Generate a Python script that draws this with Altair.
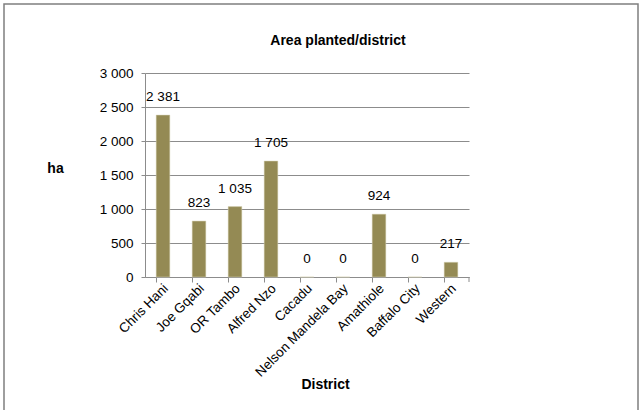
import altair as alt
import pandas as pd

# Planted area per district (hectares)
districts = ["Chris Hani", "Joe Gqabi", "OR Tambo", "Alfred Nzo", "Cacadu",
             "Nelson Mandela Bay", "Amathiole", "Baffalo City", "Western"]
hectares = [2381, 823, 1035, 1705, 0, 0, 924, 0, 217]
y_ticks = [0, 500, 1000, 1500, 2000, 2500, 3000]

df = pd.DataFrame({"district": districts, "ha": hectares})

W, H = 324, 204
FONT = "Liberation Sans"
BAR = "#948A54"
GRID = "#8C8C8C"

x_enc = alt.X(
    "district:N", sort=districts,
    scale=alt.Scale(paddingInner=0.62, paddingOuter=0.31),
    axis=alt.Axis(
        title="District", titleFont=FONT, titleFontSize=14, titleFontWeight="bold",
        titleColor="#000", titleX=W / 2 + 18, titleY=111, titleBaseline="alphabetic",
        labelAngle=-45, labelAlign="right", labelBaseline="middle",
        labelFont=FONT, labelFontSize=13.5, labelColor="#000", labelPadding=4,
        labelOffset=3,
        bandPosition=0, tickColor=GRID, tickSize=5, domainColor=GRID,
        labelOverlap=False,
    ),
)
y_enc = alt.Y(
    "ha:Q",
    scale=alt.Scale(domain=[0, 3000], nice=False),
    axis=alt.Axis(
        title="ha", titleAngle=0, titleFont=FONT, titleFontSize=14,
        titleFontWeight="bold", titleColor="#000", titleX=-90, titleY=99,
        titleAlign="center", titleBaseline="alphabetic",
        values=y_ticks, labelOverlap=False,
        labelExpr="replace(format(datum.value, ','), ',', ' ')",
        labelFont=FONT, labelFontSize=13.5, labelColor="#000", labelPadding=8,
        tickColor=GRID, tickSize=4, domainColor=GRID,
        grid=True, gridColor=GRID, gridWidth=1,
    ),
)

base = alt.Chart(df).encode(x=x_enc, y=y_enc)

bars = base.mark_bar(color=BAR, stroke="#D9D4B8", strokeWidth=0.5)

labels = base.transform_calculate(
    label="replace(format(datum.ha, ','), ',', ' ')"
).mark_text(
    font=FONT, fontSize=13.5, color="#000", baseline="bottom", dy=-11
).encode(text="label:N")

one = pd.DataFrame({"k": [0]})

# closing tick at the right end of the category axis
end_tick = alt.Chart(one).mark_rule(color=GRID).encode(
    x=alt.value(W), y=alt.value(H), y2=alt.value(H + 5)
)

# chart-area frame
frame = alt.Chart(one).mark_rect(
    fill=None, stroke="#7F7F7F", strokeWidth=1.5, clip=False
).encode(
    x=alt.value(4 - 145), x2=alt.value(638 - 145),
    y=alt.value(4 - 73), y2=alt.value(430),
)

# chart heading
heading = alt.Chart(one).mark_text(
    text="Area planted/district", font=FONT, fontSize=14, fontWeight="bold",
    color="#000", align="center", baseline="alphabetic",
).encode(x=alt.value(338 - 145), y=alt.value(45 - 73))

chart = alt.layer(frame, bars, labels, end_tick, heading).properties(
    width=W, height=H,
    autosize=alt.AutoSizeParams(type="none"),
    padding={"left": 145, "top": 73, "right": 640 - 145 - W, "bottom": 410 - 73 - H},
    background="white",
).configure_view(stroke=None)

chart.save("out.html", embed_options={"renderer": "svg", "actions": False})
